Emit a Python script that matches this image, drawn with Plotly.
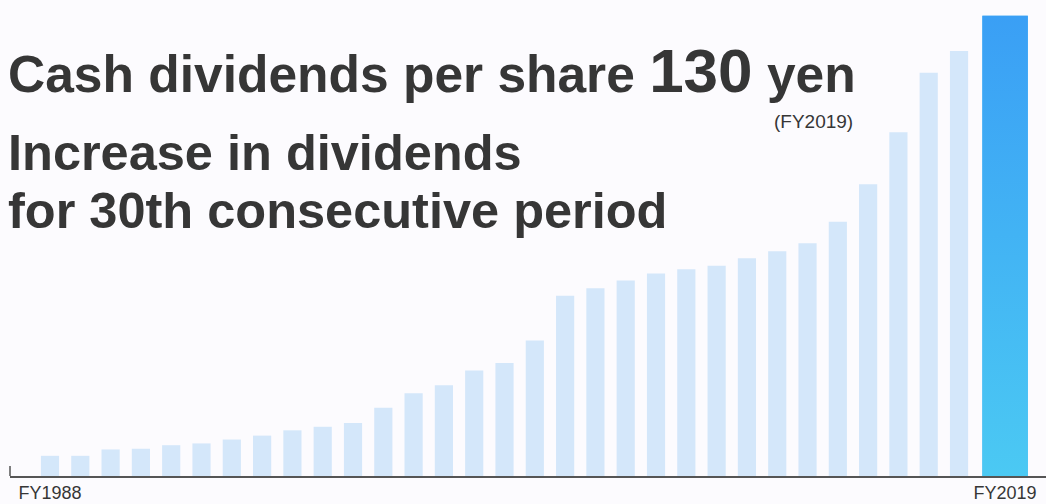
import plotly.graph_objects as go

# ---- data ----
years = list(range(1988, 2020))
dividends = [5.7, 5.7, 7.5, 7.7, 8.7, 9.2, 10.3, 11.4, 12.9, 13.9, 15.0, 19.3,
             23.4, 25.6, 29.8, 31.9, 38.3, 50.9, 53.0, 55.2, 57.2, 58.4, 59.4,
             61.5, 63.5, 65.7, 71.8, 82.4, 97.1, 113.9, 120.0, 130.0]
tick_labels = ["FY1988", "FY2019"]

# ---- layout constants ----
W, H = 1046, 504
ML, MB = 10, 28
PLOT_W, PLOT_H = W - ML, H - MB
X_LO, X_HI = -1.32, 32.87
Y_HI = 134.43

TEXT = "#363636"
FONT = "Liberation Sans, Arial, Helvetica, sans-serif"
BG = "#fcfbfe"

idx = list(range(len(years)))
light_w = 0.6
blue_off, blue_w = -0.23, 1.5

fig = go.Figure()
fig.add_trace(go.Bar(
    x=idx[:-1], y=dividends[:-1], width=light_w,
    marker=dict(color="#d4e7fa", line=dict(width=0)),
    hoverinfo="skip", showlegend=False))
fig.add_trace(go.Bar(
    x=[idx[-1]], y=[dividends[-1]], width=blue_w, offset=blue_off,
    marker=dict(color="#42b2f4", line=dict(width=0)),
    hoverinfo="skip", showlegend=False))

# vertical gradient on the highlighted bar (same rectangle as the bar above)
bx0 = idx[-1] + blue_off
bx1 = bx0 + blue_w
fig.add_trace(go.Scatter(
    x=[bx0, bx1, bx1, bx0, bx0], y=[0, 0, dividends[-1], dividends[-1], 0],
    mode="lines", line=dict(width=0), fill="toself",
    fillgradient=dict(type="vertical",
                      colorscale=[[0, "#4bc9f3"], [1, "#3a9ff5"]]),
    hoverinfo="skip", showlegend=False))

blue_center = bx0 + blue_w / 2


def px_x(p):
    return (p - ML) / PLOT_W


def px_y(p):
    return 1 - p / PLOT_H


annos = [
    dict(text="Cash dividends per share <span style='font-size:62px'>130</span> yen",
         x=px_x(6), y=px_y(107), size=51.5, bold=True, xanchor="left"),
    dict(text="Increase in dividends",
         x=px_x(6), y=px_y(183.5), size=50.5, bold=True, xanchor="left"),
    dict(text="for 30th consecutive period",
         x=px_x(6), y=px_y(241), size=50.5, bold=True, xanchor="left"),
    dict(text="(FY2019)",
         x=px_x(855), y=px_y(133.5), size=19, bold=False, xanchor="right"),
]
for a in annos:
    txt = f"<b>{a['text']}</b>" if a["bold"] else a["text"]
    fig.add_annotation(
        text=txt, xref="paper", yref="paper", x=a["x"], y=a["y"],
        xanchor=a["xanchor"], yanchor="bottom", showarrow=False,
        font=dict(family=FONT, size=a["size"], color=TEXT))

# small vertical tick at the left end of the baseline
fig.add_shape(type="line", xref="paper", yref="paper",
              x0=0, x1=0, y0=0, y1=10 / PLOT_H,
              line=dict(color="#555555", width=1.5))

fig.update_layout(
    width=W, height=H,
    margin=dict(l=ML, r=0, t=0, b=MB, autoexpand=False),
    paper_bgcolor=BG, plot_bgcolor=BG,
    barmode="overlay",
    xaxis=dict(range=[X_LO, X_HI], showgrid=False, zeroline=False,
               showline=True, linecolor="#555555", linewidth=1.5,
               tickvals=[idx[0], blue_center], ticktext=tick_labels,
               ticks="",
               tickfont=dict(family=FONT, size=18, color=TEXT),
               automargin=False, fixedrange=True),
    yaxis=dict(range=[0, Y_HI], visible=False, fixedrange=True,
               automargin=False),
)

fig.write_html("out.html", config={"displayModeBar": False})
